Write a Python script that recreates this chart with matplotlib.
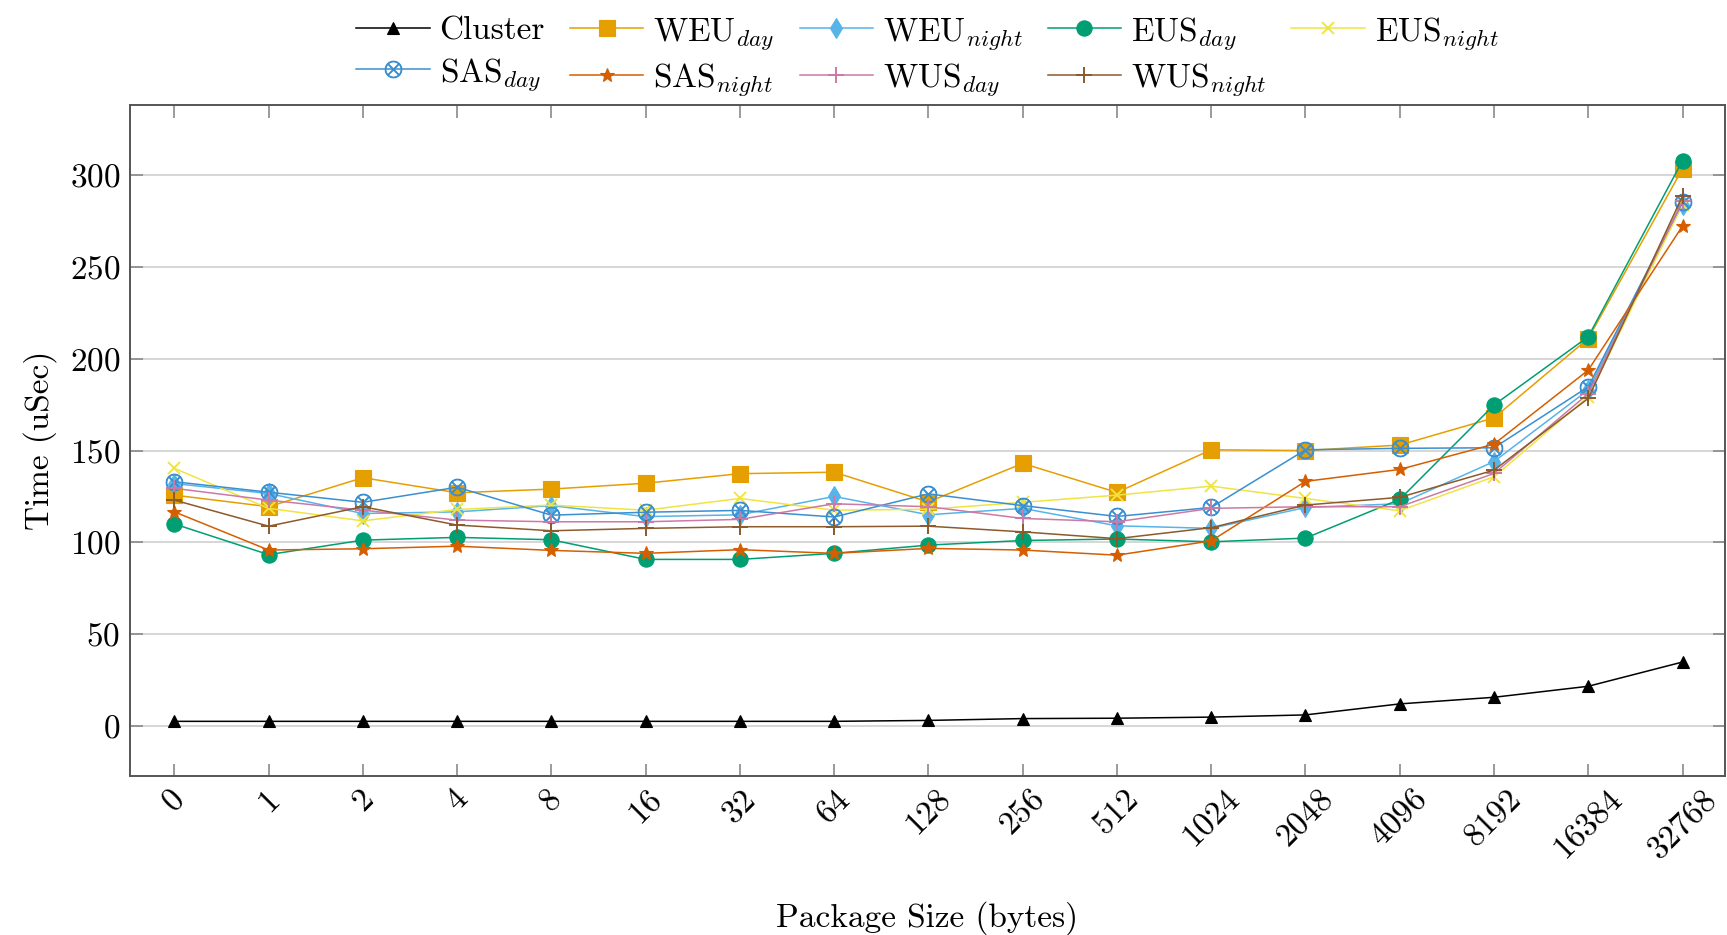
import numpy as np
import matplotlib
matplotlib.use("Agg")
import matplotlib.pyplot as plt

plt.rcParams['font.family'] = 'serif'
plt.rcParams['font.serif'] = ['cmr10', 'DejaVu Serif']
plt.rcParams['mathtext.fontset'] = 'cm'
plt.rcParams['axes.formatter.use_mathtext'] = True

# package sizes (bytes), shown as categories
sizes = ['0', '1', '2', '4', '8', '16', '32', '64', '128', '256', '512',
         '1024', '2048', '4096', '8192', '16384', '32768']

cluster = [2.5, 2.5, 2.5, 2.5, 2.5, 2.5, 2.5, 2.5, 3, 4, 4.2, 4.8, 6, 12, 15.6, 21.6, 34.8]
weu_day = [125.7, 119.4, 135.2, 127, 129, 132.2, 137.4, 138.2, 122, 143, 127.2, 150.4, 150, 153, 167.8, 211, 303.5]
weu_night = [132, 126.6, 115.7, 116.6, 120, 114, 115, 125, 115, 118.5, 109, 107.6, 119, 121, 144, 183, 284]
eus_day = [110, 93.3, 101.2, 102.7, 101.4, 90.7, 90.7, 94, 98.5, 101, 101.8, 100.3, 102.3, 123.4, 174.8, 212, 307.9]
eus_night = [140.3, 118.5, 111.7, 117.9, 120.3, 117.5, 123.9, 117.5, 118, 121.8, 125.7, 130.6, 123.9, 117.2, 135.7, 179.3, 284]
sas_day = [133, 127.3, 121.8, 130, 114.8, 116.4, 117.4, 113.8, 126.4, 120, 114.1, 119, 150.4, 151.2, 151.5, 184.7, 285.3]
sas_night = [116.6, 95.8, 96.5, 97.9, 95.6, 94, 96, 94, 96.7, 95.8, 93, 100.8, 133.2, 139.7, 153.5, 193.8, 272.3]
wus_day = [129.4, 123, 117.5, 112.1, 111.2, 111.2, 112.5, 121, 119.4, 113, 111.2, 118.5, 119.4, 119.4, 137.5, 181, 286]
wus_night = [123, 108.8, 119.4, 109.4, 106.3, 107.6, 108.5, 108.5, 108.8, 105.7, 102, 108, 120.3, 124.5, 139.3, 178.4, 288.6]

x = np.arange(len(sizes))

fig = plt.figure(figsize=(17.27, 9.35), dpi=100)
ax = fig.add_axes([0.0753, 0.170, 0.9235, 0.7177])

lw = 1.1
series = [
    # label, data, color, marker, markersize
    ('Cluster', cluster, 'black', '^', 8),
    ('WEU$_{day}$', weu_day, '#E69F00', 's', 11),
    ('WEU$_{night}$', weu_night, '#56B4E9', 'd', 10),
    ('EUS$_{day}$', eus_day, '#009E73', 'o', 11),
    ('EUS$_{night}$', eus_night, '#F0E442', 'x', 9),
    ('SAS$_{day}$', sas_day, '#3a8fd0', r'$\otimes$', 12),
    ('SAS$_{night}$', sas_night, '#D55E00', '*', 10),
    ('WUS$_{day}$', wus_day, '#CC79A7', '+', 12),
    ('WUS$_{night}$', wus_night, '#8c5a2b', '+', 12),
]

handles = []
for label, vals, col, mk, ms in series:
    h, = ax.plot(x, vals, color=col, lw=lw, marker=mk, markersize=ms,
                 markeredgewidth=1.4 if mk in ('x', '+') else 0.8,
                 markeredgecolor=col, markerfacecolor=col, label=label)
    handles.append(h)

ax.set_xlim(-0.47, 16.45)
ax.set_ylim(-27.3, 338.2)
ax.set_xticks(x)
ax.set_xticklabels(sizes, rotation=45, ha='center', va='top')
ax.set_yticks([0, 50, 100, 150, 200, 250, 300])

ax.yaxis.grid(True, color='#d6d6d6', lw=1.4)
ax.set_axisbelow(True)
ax.tick_params(direction='in', length=9, width=1.2, color='#8a8a8a',
               top=True, right=True, labelsize=24)
ax.tick_params(axis='x', pad=6)
ax.tick_params(axis='y', pad=7)
for sp in ax.spines.values():
    sp.set_color('#555555')
    sp.set_linewidth(1.4)

ax.set_xlabel('Package Size (bytes)', fontsize=24, labelpad=27)
ax.set_ylabel('Time (uSec)', fontsize=24, labelpad=9)

# row-major legend order for 5 columns
order = [0, 5, 1, 6, 2, 7, 3, 8, 4]
ax.legend([handles[i] for i in order], [handles[i].get_label() for i in order],
          ncol=5, loc='lower center', bbox_to_anchor=(0.5, 0.99),
          frameon=False, fontsize=24, handlelength=2.2, handletextpad=0.3,
          columnspacing=0.75, labelspacing=0.3, borderaxespad=0.0)

fig.savefig('out.png', dpi=100)
